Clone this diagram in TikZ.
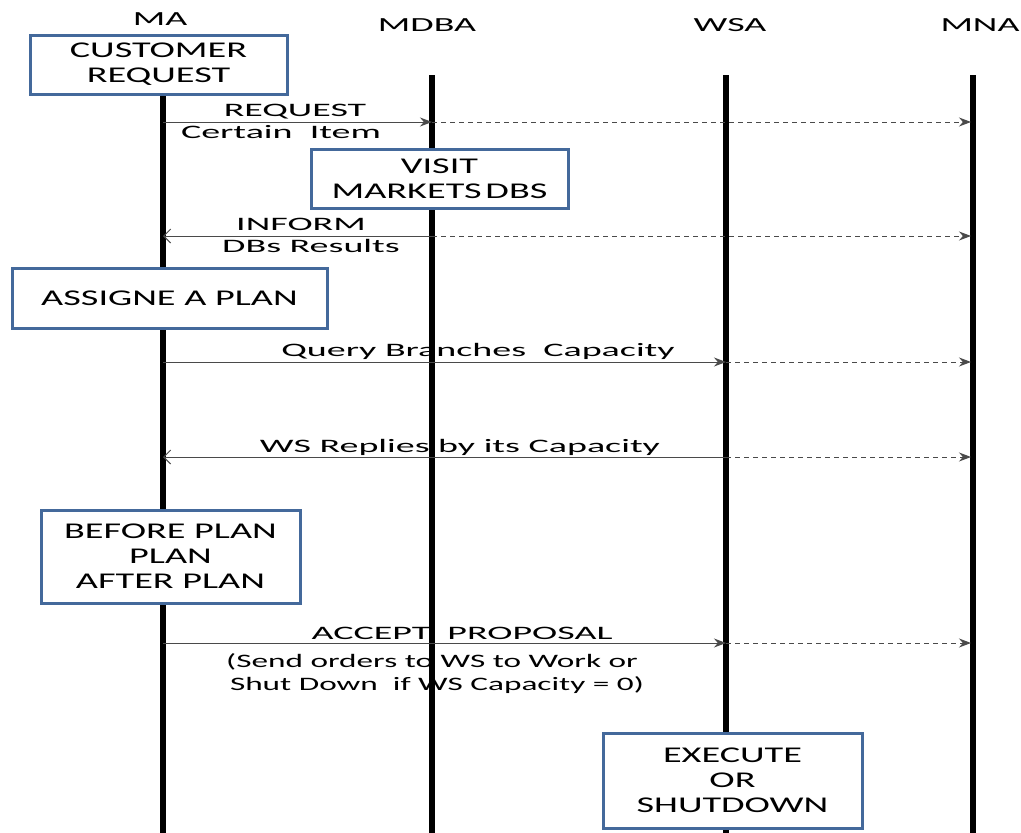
\documentclass[tikz,border=0pt]{standalone}
\usepackage{fontspec}
\setmainfont{Carlito}
\newfontfamily\boxfont{Carlito}[FakeStretch=1.7]
\newfontfamily\headfont{Carlito}[FakeStretch=1.9]
\newfontfamily\lblfont{Carlito}[FakeStretch=2.0]
\newfontfamily\notefont{Carlito}[FakeStretch=1.75]
\usetikzlibrary{arrows.meta}
\definecolor{boxblue}{HTML}{44699B}
\definecolor{msggray}{HTML}{4A4A4A}
\tikzset{
  life/.style={line width=5.5pt,black},
  actbox/.style={draw=boxblue,line width=3pt,fill=white,rectangle,align=center,inner sep=0pt,
     font=\boxfont\fontsize{22.5}{25}\selectfont},
  head/.style={font=\headfont\fontsize{20}{24}\selectfont,inner sep=0pt},
  lbl/.style={font=\lblfont\fontsize{19}{22}\selectfont,inner sep=0pt,align=center},
  note/.style={font=\notefont\fontsize{19}{22}\selectfont,inner sep=0pt,align=center},
  msg/.style={draw=msggray,line width=1pt,-{Stealth[length=12pt,width=9pt]}},
  back/.style={draw=msggray,line width=1pt,-{Straight Barb[length=7pt,width=14pt,line width=1pt]}},
  fwd/.style={draw=msggray,line width=1pt,dash pattern=on 5pt off 4pt,-{Stealth[length=12pt,width=9pt]}},
}
\begin{document}
\begin{tikzpicture}[x=1pt,y=-1pt]
\useasboundingbox (0,0) rectangle (1021,833);
% headers
\node[head] (hMA) at (160,19) {MA};
\node[head] (hMDBA) at (427,25) {MDBA};
\node[head] (hWSA) at (730,25) {WSA};
\node[head] (hMNA) at (980,25) {MNA};
% lifeline ends
\coordinate (maT) at (163,93);   \coordinate (maB) at (163,833);
\coordinate (dbT) at (432,75);   \coordinate (dbB) at (432,833);
\coordinate (wsT) at (726,75);   \coordinate (wsB) at (726,833);
\coordinate (mnT) at (973,75);   \coordinate (mnB) at (973,833);
% message points
\foreach \n/\y in {1/122,2/236,3/362,4/457,5/643}{
  \coordinate (ma\n) at (163,\y);
  \coordinate (db\n) at (432,\y);
  \coordinate (ws\n) at (726,\y);
  \coordinate (mn\n) at (971,\y);
}
% labels
\node[lbl] (l1a) at (295,112) {REQUEST};
\node[lbl] (l1b) at (281,132) {Certain\ \ Item};
\node[lbl] (l2a) at (301,224) {INFORM};
\node[lbl] (l2b) at (311,246) {DBs Results};
\node[lbl] (l3) at (478,351) {Query Branches\ \ Capacity};
\node[lbl] (l4) at (460,447) {WS Replies by its Capacity};
\node[lbl] (l5) at (462,633) {ACCEPT\ \ PROPOSAL};
\node[note] (l5b) at (432,662) {(Send orders to WS to Work or};
\node[note] (l5c) at (437,685) {Shut Down\ \ if WS Capacity = 0)};
% lifelines
\draw[life] (maT) -- (maB);
\draw[life] (dbT) -- (dbB);
\draw[life] (wsT) -- (wsB);
\draw[life] (mnT) -- (mnB);
% messages
\draw[msg] (ma1) -- (db1);
\draw[fwd] (db1) -- (mn1);
\draw[back] (db2) -- (ma2);
\draw[fwd] (db2) -- (mn2);
\draw[msg] (ma3) -- (ws3);
\draw[fwd] (ws3) -- (mn3);
\draw[back] (ws4) -- (ma4);
\draw[fwd] (ws4) -- (mn4);
\draw[msg] (ma5) -- (ws5);
\draw[fwd] (ws5) -- (mn5);
% boxes
\node[actbox,minimum width=257pt,minimum height=59pt] (b1) at (158.5,64.5) {CUSTOMER\\REQUEST};
\node[actbox,minimum width=257pt,minimum height=59pt] (b2) at (439.5,178.5) {VISIT\\MARKETS\,DBS};
\node[actbox,minimum width=315pt,minimum height=60pt] (b3) at (169.5,298) {ASSIGNE A PLAN};
\node[actbox,minimum width=259pt,minimum height=93pt] (b4) at (170.5,556.5) {BEFORE PLAN\\PLAN\\AFTER PLAN};
\node[actbox,minimum width=259pt,minimum height=95pt] (b5) at (732.5,780.5) {EXECUTE\\OR\\SHUTDOWN};
\end{tikzpicture}
\end{document}
